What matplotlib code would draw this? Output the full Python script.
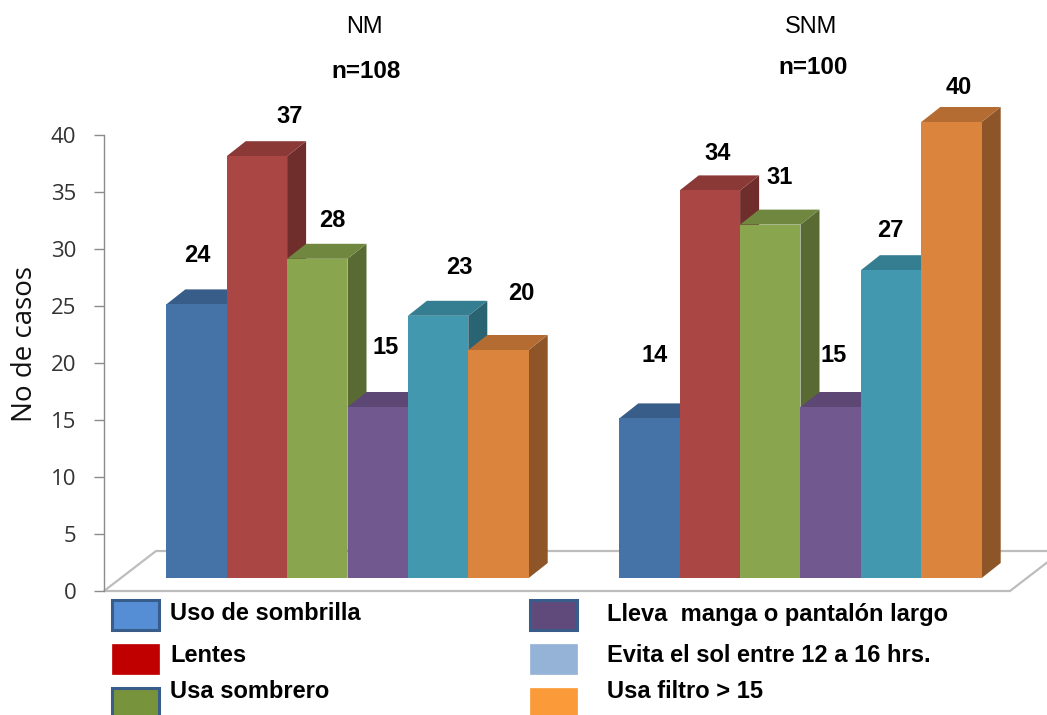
import matplotlib
matplotlib.use("Agg")
import matplotlib.pyplot as plt
from matplotlib.patches import Polygon, Rectangle
from matplotlib.colors import to_rgb

# datos
grupos = ["NM", "SNM"]
n_grupos = ["n=108", "n=100"]
categorias = ["Uso de sombrilla", "Lentes", "Usa sombrero",
              "Lleva  manga o pantalón largo", "Evita el sol entre 12 a 16 hrs.",
              "Usa filtro > 15"]
nm = [24, 37, 28, 15, 23, 20]
snm = [14, 34, 31, 15, 27, 40]
valores = [nm, snm]
ticks_y = [0, 5, 10, 15, 20, 25, 30, 35, 40]

# colores de las barras (cara frontal) y de la leyenda
col_barras = ["#4572A7", "#AA4643", "#89A54E", "#71588F", "#4198AF", "#DB843D"]
col_leyenda = ["#558ED5", "#C00000", "#77933C", "#604A7B", "#95B3D7", "#FA9A38"]
borde_leyenda = ["#385D8A", None, "#385D8A", "#385D8A", None, None]

# desplazamiento de las etiquetas respecto a la esquina sup. izq. de cada barra (px)
lab_dx = [[31, 63, 45, 38, 51, 53], [35, 38, 40, 33, 29, 37]]
lab_dy = [[49, 40, 38, 60, 48, 57], [63, 37, 47, 52, 40, 34]]

W, H = 1047, 715
fig = plt.figure(figsize=(W / 100, H / 100), dpi=100)
x0, y0, y40 = 104, 591, 135
ax = fig.add_axes([x0 / W, (H - y0) / H, (W - x0) / W, (y0 - y40) / H])

PXU = 60.4                      # pixeles por ancho de barra
xmax = (W - x0) / PXU
ax.set_xlim(0, xmax)
ax.set_ylim(0, 40)
sx = 1 / PXU
sy = 40 / (y0 - y40)

# profundidad 3D (px)
piso_dx, piso_dy = 52, 40
fr_dx, fr_dy = 17, 13           # cara frontal de las barras dentro del piso
prof_dx, prof_dy = 19, 15       # profundidad de cada barra

# piso
ancho_piso = 15.0
piso = Polygon([(0, 0), (ancho_piso, 0),
                (ancho_piso + piso_dx * sx, piso_dy * sy),
                (piso_dx * sx, piso_dy * sy)],
               closed=True, facecolor="white", edgecolor="#BDBDBD",
               linewidth=1.6, clip_on=False, zorder=1)
ax.add_patch(piso)


def sombra(c, f):
    r, g, b = to_rgb(c)
    return (r * f, g * f, b * f)


inicio = [0.75, 8.25]
for g in range(2):
    izq = [inicio[g] + i + fr_dx * sx for i in range(6)]
    base = fr_dy * sy
    ddx, ddy = prof_dx * sx, prof_dy * sy
    for i, v in enumerate(valores[g]):
        x1, x2 = izq[i], izq[i] + 1
        top = base + v
        z = 2 + i * 0.5
        lado = Polygon([(x2, base), (x2 + ddx, base + ddy),
                        (x2 + ddx, top + ddy), (x2, top)],
                       facecolor=sombra(col_barras[i], 0.65), linewidth=0,
                       clip_on=False, zorder=z)
        techo = Polygon([(x1, top), (x1 + ddx, top + ddy),
                         (x2 + ddx, top + ddy), (x2, top)],
                        facecolor=sombra(col_barras[i], 0.82), linewidth=0,
                        clip_on=False, zorder=z + 0.1)
        ax.add_patch(lado)
        ax.add_patch(techo)
        frente = ax.bar(x1, v, width=1.0, bottom=base, align="edge",
                        color=col_barras[i], linewidth=0, zorder=z + 0.2)
        frente[0].set_clip_on(False)
        ax.annotate(str(v), xy=(x1, top), xytext=(lab_dx[g][i], lab_dy[g][i]),
                    textcoords="offset pixels", ha="center", va="center",
                    fontsize=17, fontweight="bold", family="Liberation Sans",
                    annotation_clip=False, zorder=10)

# eje y
for s in ["top", "right", "bottom"]:
    ax.spines[s].set_visible(False)
ax.spines["left"].set_color("#8C8C8C")
ax.spines["left"].set_linewidth(1.0)
ax.set_xticks([])
ax.set_yticks(ticks_y, labels=[str(t) for t in ticks_y],
              fontfamily="Open Sans", fontsize=16, color="#333333")
ax.tick_params(axis="y", length=7, width=1.0, color="#8C8C8C", pad=13)
ax.patch.set_visible(False)
fig.text(25 / W, 1 - 344 / H, "No de casos", rotation=90, ha="center",
         va="center", fontsize=20, family="Open Sans", color="#111111")

# titulos de grupo
tit_x = [364, 811]
n_y = [72, 67]
for g in range(2):
    fig.text(tit_x[g] / W, 1 - 27 / H, grupos[g], ha="center", va="center",
             fontsize=17, family="Liberation Sans")
    fig.text(tit_x[g] / W + 2 / W, 1 - n_y[g] / H, n_grupos[g], ha="center",
             va="center", fontsize=17.5, fontweight="bold",
             family="Liberation Sans")

# leyenda
caja_x = [112, 530]
texto_x = [170, 607]
caja_y = [600, 644, 688]
texto_y = [614, 655, 692]
for k, nombre in enumerate(categorias):
    c, r = k // 3, k % 3
    ec = borde_leyenda[k]
    fig.patches.append(Rectangle((caja_x[c] / W, 1 - (caja_y[r] + 30) / H),
                                 47 / W, 30 / H, transform=fig.transFigure,
                                 facecolor=col_leyenda[k],
                                 edgecolor=ec if ec else col_leyenda[k],
                                 linewidth=2.2 if ec else 0.5))
    fig.text(texto_x[c] / W, 1 - texto_y[r] / H, nombre, ha="left",
             va="center", fontsize=17, fontweight="bold",
             family="Liberation Sans")

fig.savefig("out.png", dpi=100)
